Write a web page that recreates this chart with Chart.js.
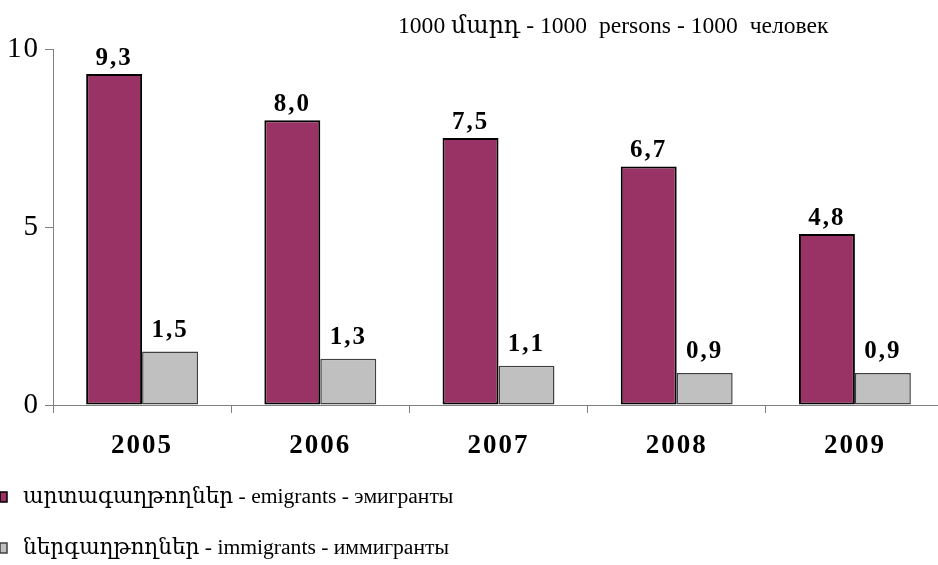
<!DOCTYPE html>
<html>
<head>
<meta charset="utf-8">
<script src="https://cdn.jsdelivr.net/npm/chart.js@4/dist/chart.umd.min.js"></script>
<style>
    html, body { margin: 0; padding: 0; background: #fff; overflow: hidden; }
</style>
</head>
<body>
<canvas id="migrationChart" width="950" height="565"></canvas>
<script>
// Chart data
const years = ['2005', '2006', '2007', '2008', '2009'];
const emigrants = [9.3, 8.0, 7.5, 6.7, 4.8];
const immigrants = [1.5, 1.3, 1.1, 0.9, 0.9];
const yTicks = [0, 5, 10];
const seriesNames = [
    'արտագաղթողներ - emigrants - эмигранты',
    'ներգաղթողներ - immigrants - иммигранты'
];
const unitText = '1000 մարդ - 1000  persons - 1000  человек';

const serif = '"Liberation Serif", "DejaVu Serif", serif';

// Spaced-out digits like the original, reset for the plain texts
const spacingPlugin = {
    id: 'spacing',
    beforeDraw(chart) {
        chart.ctx.letterSpacing = '2px';
    }
};

// Value labels above each bar, with decimal comma
const valueLabels = {
    id: 'valueLabels',
    afterDatasetsDraw(chart) {
        const ctx = chart.ctx;
        ctx.save();
        ctx.letterSpacing = '2px';
        ctx.font = 'bold 25px ' + serif;
        ctx.fillStyle = '#000';
        ctx.textAlign = 'center';
        ctx.textBaseline = 'alphabetic';
        chart.data.datasets.forEach((ds, i) => {
            const meta = chart.getDatasetMeta(i);
            const gap = i === 0 ? 9 : 15;
            meta.data.forEach((bar, j) => {
                const txt = ds.data[j].toFixed(1).replace('.', ',');
                ctx.fillText(txt, bar.x, bar.y - gap);
            });
        });
        ctx.restore();
    }
};

// Unit caption and vertical legend
const extraText = {
    id: 'extraText',
    afterDraw(chart) {
        const ctx = chart.ctx;
        ctx.save();
        ctx.letterSpacing = '0px';
        ctx.fillStyle = '#000';
        ctx.textBaseline = 'middle';
        ctx.textAlign = 'left';
        ctx.font = '23.6px ' + serif;
        ctx.fillText(unitText, 398, 27);

        chart.data.datasets.forEach((ds, i) => {
            const y = 497 + i * 51;
            ctx.fillStyle = ds.backgroundColor;
            ctx.fillRect(0, y - 5, 7, 10);
            ctx.strokeStyle = ds.borderColor;
            ctx.lineWidth = 1.5;
            ctx.strokeRect(0, y - 5, 7, 10);
            ctx.fillStyle = '#000';
            ctx.font = '21.6px ' + serif;
            ctx.fillText(ds.label, 23, y);
        });
        ctx.restore();
    }
};

const ctx = document.getElementById('migrationChart').getContext('2d');
const migrationChart = new Chart(ctx, {
    type: 'bar',
    data: {
        labels: years,
        datasets: [{
            label: seriesNames[0],
            data: emigrants,
            backgroundColor: '#993366',
            borderColor: '#000000',
            borderWidth: 2,
            borderSkipped: false
        }, {
            label: seriesNames[1],
            data: immigrants,
            backgroundColor: '#C0C0C0',
            borderColor: '#404040',
            borderWidth: 1.5,
            borderSkipped: false
        }]
    },
    options: {
        responsive: false,
        animation: false,
        devicePixelRatio: 1,
        layout: {
            padding: { top: 49, right: 6, bottom: 100, left: 0 }
        },
        plugins: {
            legend: { display: false },
            tooltip: { enabled: false }
        },
        datasets: {
            bar: { categoryPercentage: 0.628, barPercentage: 1.0 }
        },
        scales: {
            x: {
                afterFit: (scale) => { scale.height = 60; },
                grid: {
                    offset: true,
                    drawOnChartArea: false,
                    drawTicks: true,
                    tickLength: 8,
                    color: '#808080'
                },
                border: { color: '#808080', width: 1 },
                ticks: {
                    color: '#000',
                    padding: 17,
                    font: { family: serif, size: 27, weight: 'bold' }
                }
            },
            y: {
                min: 0,
                max: 10,
                afterFit: (scale) => { scale.width = 53; },
                afterBuildTicks: (scale) => {
                    scale.ticks = yTicks.map(v => ({ value: v }));
                },
                grid: {
                    drawOnChartArea: false,
                    drawTicks: true,
                    tickLength: 8,
                    color: '#808080'
                },
                border: { color: '#808080', width: 1 },
                ticks: {
                    color: '#000',
                    padding: 5,
                    font: { family: serif, size: 29 }
                }
            }
        }
    },
    plugins: [spacingPlugin, valueLabels, extraText]
});
</script>
</body>
</html>
